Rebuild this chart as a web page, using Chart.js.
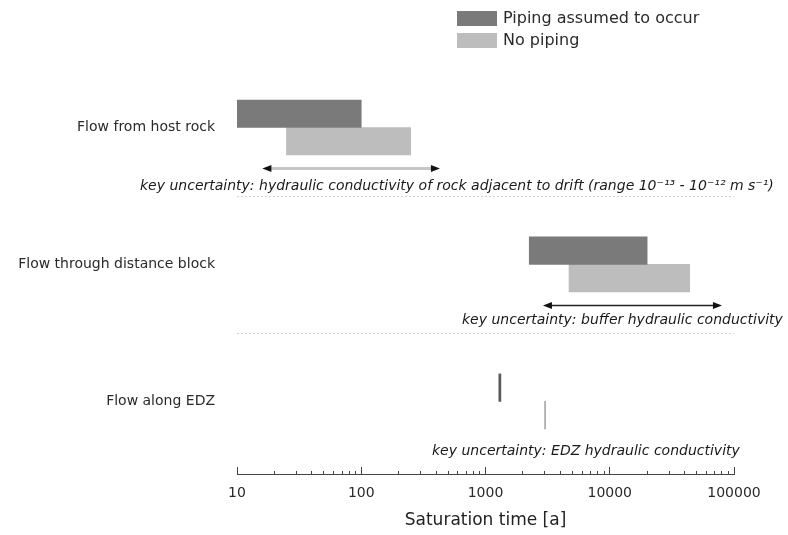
<!DOCTYPE html>
<html>
<head>
<meta charset="utf-8">
<script src="https://cdn.jsdelivr.net/npm/chart.js@4.4.0/dist/chart.umd.min.js"></script>
<style>
  html, body { margin: 0; padding: 0; background: #fff; }
</style>
</head>
<body>
<canvas id="satChart" width="788" height="535"></canvas>
<script>
// saturation time ranges [a] for each inflow process
const groups = ['Flow from host rock', 'Flow through distance block', 'Flow along EDZ'];
const pipingFrom = [10, 2250, 1280];
const pipingTo = [100, 20000, 1330];
const noPipingFrom = [25, 4700, 2990];
const noPipingTo = [250, 44000, 3045];

// spread from the key uncertainty (double arrows)
const spreadFrom = [16, 2900];
const spreadTo = [430, 80000];
const notes = [
    'key uncertainty: hydraulic conductivity of rock adjacent to drift (range 10⁻¹³ - 10⁻¹² m s⁻¹)',
    'key uncertainty: buffer hydraulic conductivity',
    'key uncertainty: EDZ hydraulic conductivity'
];

// log axis
const decades = [10, 100, 1000, 10000, 100000];
const decadeLabels = ['10', '100', '1000', '10000', '100000'];
const tickValues = decades.slice(0, -1)
    .flatMap(d => [1, 2, 3, 4, 5, 6, 7, 8, 9].map(m => m * d))
    .concat([decades[decades.length - 1]]);

Chart.defaults.font.family = '"DejaVu Sans", sans-serif';

function arrowHead(ctx, tipX, y, dir) {
    ctx.beginPath();
    ctx.moveTo(tipX, y);
    ctx.lineTo(tipX + dir * 9, y - 3.5);
    ctx.lineTo(tipX + dir * 9, y + 3.5);
    ctx.closePath();
    ctx.fill();
}

// separators, arrows and the notes under each group
const notesPlugin = {
    id: 'notes',
    afterDatasetsDraw(chart) {
        const { ctx, scales: { x, y } } = chart;
        ctx.save();
        ctx.strokeStyle = '#d0d0d0';
        ctx.lineWidth = 1;
        ctx.setLineDash([2, 2]);
        [0.5, 1.5].forEach(v => {
            const py = Math.round(y.getPixelForValue(v)) + 0.5;
            ctx.beginPath();
            ctx.moveTo(x.getPixelForValue(10), py);
            ctx.lineTo(x.getPixelForValue(100000), py);
            ctx.stroke();
        });
        ctx.setLineDash([]);

        spreadFrom.forEach((lo, i) => {
            const x1 = x.getPixelForValue(lo);
            const x2 = x.getPixelForValue(spreadTo[i]);
            const py = y.getPixelForValue(i + 0.3);
            ctx.strokeStyle = i === 0 ? '#c6c6c6' : '#222';
            ctx.lineWidth = i === 0 ? 3 : 1.5;
            ctx.beginPath();
            ctx.moveTo(x1 + 6, py);
            ctx.lineTo(x2 - 6, py);
            ctx.stroke();
            ctx.fillStyle = '#111';
            arrowHead(ctx, x1, py, 1);
            arrowHead(ctx, x2, py, -1);
        });

        ctx.font = 'italic 14px "DejaVu Sans"';
        ctx.fillStyle = '#1a1a1a';
        ctx.textAlign = 'left';
        ctx.textBaseline = 'middle';
        const noteLeft = [140, 462, 432];
        const noteDy = [0.43, 0.41, 0.365];
        notes.forEach((t, i) => ctx.fillText(t, noteLeft[i], y.getPixelForValue(i + noteDy[i])));
        ctx.restore();
    }
};

// key box in the top right
const keyPlugin = {
    id: 'keyBox',
    afterDraw(chart) {
        const ctx = chart.ctx;
        ctx.save();
        ctx.font = '16px "DejaVu Sans"';
        ctx.textAlign = 'left';
        ctx.textBaseline = 'middle';
        chart.data.datasets.forEach((ds, i) => {
            const top = 11 + i * 22;
            ctx.fillStyle = ds.backgroundColor[0];
            ctx.fillRect(457, top, 40, 15);
            ctx.fillStyle = '#2a2a2a';
            ctx.fillText(ds.label, 503, top + 8);
        });
        ctx.restore();
    }
};

new Chart(document.getElementById('satChart'), {
    type: 'bar',
    data: {
        datasets: [{
            label: 'Piping assumed to occur',
            data: groups.map((g, i) => ({ y: i, x: [pipingFrom[i], pipingTo[i]] })),
            backgroundColor: ['#7a7a7a', '#7a7a7a', '#595959'],
            barThickness: 27.5
        }, {
            label: 'No piping',
            data: groups.map((g, i) => ({ y: i, x: [noPipingFrom[i], noPipingTo[i]] })),
            backgroundColor: ['#bdbdbd', '#bdbdbd', '#a6a6a6'],
            barThickness: 27.5
        }]
    },
    options: {
        indexAxis: 'y',
        responsive: false,
        animation: false,
        layout: { padding: { left: 10, right: 54, top: 59, bottom: 0 } },
        plugins: {
            legend: { display: false },
            tooltip: { enabled: false }
        },
        scales: {
            x: {
                type: 'logarithmic',
                min: 10,
                max: 100000,
                afterBuildTicks: scale => { scale.ticks = tickValues.map(v => ({ value: v })); },
                afterFit: scale => { scale.height = 61; },
                border: { display: true, color: '#444', width: 1 },
                grid: {
                    display: true,
                    drawOnChartArea: false,
                    drawTicks: true,
                    tickLength: -7,
                    tickColor: '#444',
                    tickBorderDash: c => decades.includes(c.tick.value) ? [] : [4, 20]
                },
                ticks: {
                    autoSkip: false,
                    maxRotation: 0,
                    padding: 18,
                    color: '#2a2a2a',
                    font: { size: 14 },
                    callback: v => {
                        const k = decades.indexOf(v);
                        return k < 0 ? '' : decadeLabels[k];
                    }
                },
                title: {
                    display: true,
                    text: 'Saturation time [a]',
                    color: '#222',
                    font: { size: 17 },
                    padding: { top: 0, bottom: 4 }
                }
            },
            y: {
                type: 'linear',
                reverse: true,
                offset: false,
                min: -0.5,
                max: 2.53,
                afterBuildTicks: scale => { scale.ticks = groups.map((g, i) => ({ value: i })); },
                afterFit: scale => { scale.width = 227; },
                border: { display: false },
                grid: { display: false, drawTicks: false },
                ticks: {
                    autoSkip: false,
                    padding: 22,
                    color: '#2a2a2a',
                    font: { size: 14 },
                    callback: v => groups[v] ?? ''
                }
            }
        }
    },
    plugins: [notesPlugin, keyPlugin]
});
</script>
</body>
</html>
